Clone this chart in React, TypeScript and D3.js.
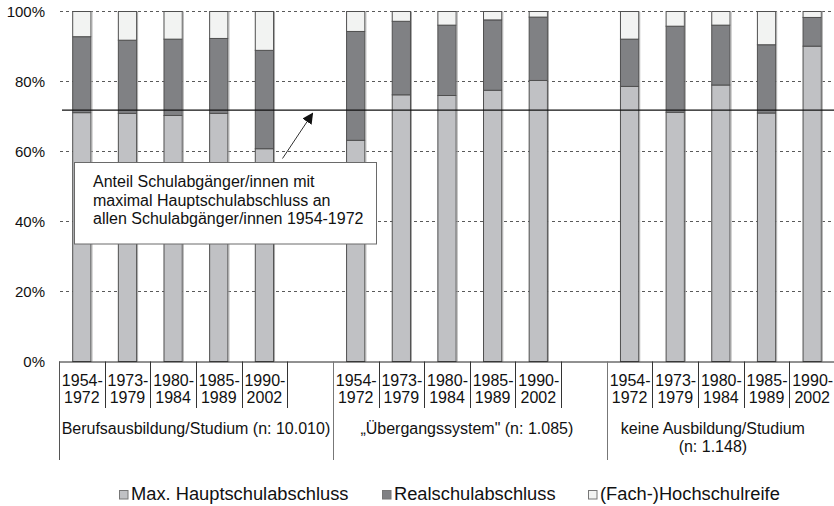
import React from "react";
import * as d3 from "d3";

const periods = ["1954-1972", "1973-1979", "1980-1984", "1985-1989", "1990-2002"];
const groupLabels = [
  ["Berufsausbildung/Studium (n: 10.010)"],
  ["\u201EÜbergangssystem\" (n: 1.085)"],
  ["keine Ausbildung/Studium", "(n: 1.148)"],
];
const hauptValues = [
  [71.1, 70.9, 70.3, 70.9, 60.8],
  [63.2, 76.2, 76.0, 77.5, 80.3],
  [78.6, 71.2, 79.0, 71.0, 90.1],
];
const realValues = [
  [21.7, 20.9, 21.8, 21.4, 28.1],
  [31.1, 21.0, 20.1, 20.1, 18.1],
  [13.5, 24.6, 17.1, 19.5, 8.2],
];
const hochValues = [
  [7.2, 8.2, 7.9, 7.7, 11.1],
  [5.7, 2.8, 3.9, 2.4, 1.6],
  [7.9, 4.2, 3.9, 9.5, 1.7],
];
const seriesNames = ["Max. Hauptschulabschluss", "Realschulabschluss", "(Fach-)Hochschulreife"];
const seriesColors = ["#c0c1c4", "#808184", "#f2f3f2"];
const yTicks = [0, 20, 40, 60, 80, 100];
const referenceValue = 71.8;
const annotationLines = [
  "Anteil Schulabgänger/innen mit",
  "maximal Hauptschulabschluss an",
  "allen Schulabgänger/innen 1954-1972",
];

const FONT = "'Liberation Sans', Arial, sans-serif";

export default function App() {
  const W = 834;
  const H = 506;
  const slots: { key: string; g: number; p: number }[] = [];
  groupLabels.forEach((_, g) => {
    periods.forEach((_, p) => slots.push({ key: `${g}-${p}`, g, p }));
    if (g < groupLabels.length - 1) slots.push({ key: `${g}-gap`, g, p: -1 });
  });
  const x = d3.scaleBand<string>().domain(slots.map((s) => s.key)).range([59, 835]).padding(0);
  const y = d3.scaleLinear().domain([0, 100]).range([361.5, 11.5]);
  const bw = x.bandwidth();
  const barW = bw * 0.4;

  const bars: JSX.Element[] = [];
  slots.forEach((s) => {
    if (s.p < 0) return;
    const vals = [hauptValues[s.g][s.p], realValues[s.g][s.p], hochValues[s.g][s.p]];
    const stack = d3.cumsum(vals);
    const cx = (x(s.key) as number) + bw / 2;
    const x0 = cx - barW / 2;
    vals.forEach((v, i) => {
      const top = y(stack[i]);
      const bot = y(stack[i] - v);
      bars.push(
        <rect
          key={`${s.key}-${i}`}
          x={x0}
          y={top}
          width={barW}
          height={bot - top}
          fill={seriesColors[i]}
          stroke="#4f4f4f"
          strokeWidth={1}
        />
      );
    });
    bars.push(
      <line
        key={`${s.key}-sh`}
        x1={x0 + barW + 1}
        x2={x0 + barW + 1}
        y1={y(100)}
        y2={y(0)}
        stroke="#a8a8a8"
        strokeWidth={1}
      />
    );
  });

  const groupStarts = [0, 1, 2].map((g) => x(`${g}-0`) as number);
  const groupEnds = [0, 1, 2].map((g) => (g < 2 ? groupStarts[g + 1] : 835));

  const legendX = [119, 382, 588];

  return (
    <svg
      width={W}
      height={H}
      style={{ position: "absolute", left: 0, top: 0, background: "#fff" }}
      fontFamily={FONT}
    >
      <rect width={W} height={H} fill="#fff" />
      {yTicks
        .filter((t) => t > 0)
        .map((t) => (
          <line
            key={`g${t}`}
            x1={60}
            x2={834}
            y1={y(t)}
            y2={y(t)}
            stroke="#5a5a5a"
            strokeWidth={1}
            strokeDasharray="3,3"
          />
        ))}
      {yTicks.map((t) => (
        <text key={`yt${t}`} x={45} y={y(t) + 5.5} textAnchor="end" fontSize={15} fill="#111">
          {t}%
        </text>
      ))}
      {bars}
      <line x1={59} x2={834} y1={y(0) + 0.5} y2={y(0) + 0.5} stroke="#222" strokeWidth={1} />
      {slots.map((s, i) => {
        if (i === 0) return null;
        const xx = Math.round(x(s.key) as number) + 0.5;
        const isGroupStart = s.p === 0;
        return (
          <line
            key={`sep${i}`}
            x1={xx}
            x2={xx}
            y1={y(0)}
            y2={isGroupStart ? 460 : 408}
            stroke={isGroupStart ? "#777" : "#333"}
            strokeWidth={1}
          />
        );
      })}
      <line x1={59.5} x2={59.5} y1={y(0)} y2={460} stroke="#555" strokeWidth={1} />
      {slots
        .filter((s) => s.p >= 0)
        .map((s) => {
          const cx = (x(s.key) as number) + bw / 2;
          const [a, b] = periods[s.p].split("-");
          return (
            <g key={`pl${s.key}`} fontSize={16} fill="#111" textAnchor="middle">
              <text x={cx + 0.5} y={385.5}>{a}-</text>
              <text x={cx} y={403.2}>{b}</text>
            </g>
          );
        })}
      {groupLabels.map((lines, g) => {
        const cx = (groupStarts[g] + groupEnds[g]) / 2 + (g === 2 ? -8 : g === 1 ? -3 : 0);
        return lines.map((ln, j) => (
          <text key={`gl${g}-${j}`} x={cx} y={434 + j * 17.6} fontSize={16} textAnchor="middle" fill="#111">
            {ln}
          </text>
        ));
      })}
      <line x1={62} x2={834} y1={y(referenceValue)} y2={y(referenceValue)} stroke="#111" strokeWidth={1.2} />
      <defs>
        <marker id="ah" viewBox="0 0 10 10" refX="9" refY="5" markerWidth="11" markerHeight="11" markerUnits="userSpaceOnUse" orient="auto">
          <path d="M0,0 L10,5 L0,10 z" fill="#111" />
        </marker>
      </defs>
      <line x1={282.5} y1={158.5} x2={312.5} y2={113.5} stroke="#333" strokeWidth={1} markerEnd="url(#ah)" />
      <rect x={74.5} y={162.5} width={302} height={81.5} fill="#fff" stroke="#6a6a6a" strokeWidth={1} />
      {annotationLines.map((ln, i) => (
        <text key={`an${i}`} x={93} y={187 + i * 18.6} fontSize={16} fill="#111">
          {ln}
        </text>
      ))}
      {seriesNames.map((n, i) => (
        <g key={`lg${i}`}>
          <rect x={legendX[i] + 0.5} y={490.5} width={8.5} height={8.5} fill={seriesColors[i]} stroke="#777" strokeWidth={1} />
          <text x={legendX[i] + 12} y={500} fontSize={18.3} fill="#111">
            {n}
          </text>
        </g>
      ))}
    </svg>
  );
}
